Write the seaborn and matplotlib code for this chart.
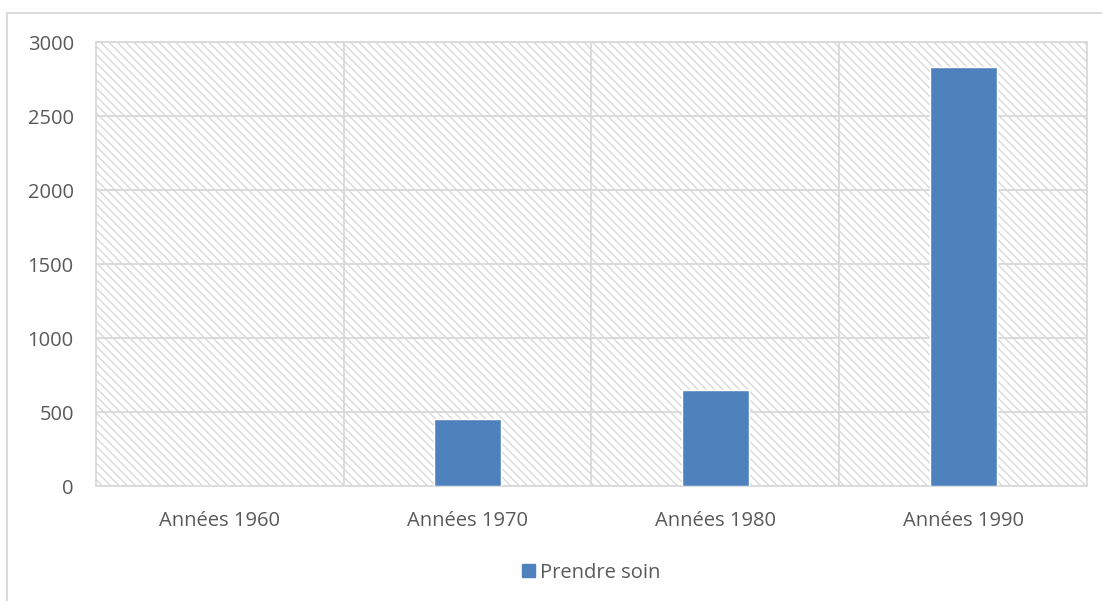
import matplotlib
matplotlib.use("Agg")
import matplotlib.pyplot as plt
import seaborn as sns
import pandas as pd
from matplotlib.lines import Line2D
from matplotlib.patches import Patch

categories = ["Années 1960", "Années 1970", "Années 1980", "Années 1990"]
values = [0, 450, 650, 2830]
series_name = "Prendre soin"
y_ticks = [0, 500, 1000, 1500, 2000, 2500, 3000]

df = pd.DataFrame({"periode": categories, "valeur": values})

sns.set_theme(style="white")
plt.rcParams["font.family"] = ["Open Sans", "DejaVu Sans"]
plt.rcParams["hatch.color"] = "#d9d9d9"
plt.rcParams["hatch.linewidth"] = 1.0

fig = plt.figure(figsize=(11.02, 6.01), dpi=100)
ax = fig.add_axes([0.0871, 0.1913, 0.8993, 0.7387])

# fond hachuré de la zone de tracé
ax.patch.set_facecolor("white")
ax.patch.set_hatch("\\\\\\\\")
ax.patch.set_edgecolor("#d9d9d9")

sns.barplot(data=df, x="periode", y="valeur", color="#4F81BD",
            width=0.27, saturation=1, ax=ax, zorder=3)

ax.set_xlim(-0.5, 3.5)
ax.set_ylim(0, 3000)
ax.set_yticks(y_ticks)
ax.set_xlabel("")
ax.set_ylabel("")

for y in y_ticks:
    ax.axhline(y, color="#d9d9d9", lw=1.3, zorder=2)
for x in [0.5, 1.5, 2.5]:
    ax.axvline(x, color="#d9d9d9", lw=1.3, zorder=2)

for s in ax.spines.values():
    s.set_color("#d9d9d9")
    s.set_linewidth(1.3)

ax.tick_params(axis="both", length=0, labelsize=14.5, colors="#595959")
ax.tick_params(axis="y", pad=16)
ax.tick_params(axis="x", pad=18)

leg = ax.legend(handles=[Patch(color="#4F81BD", label=series_name)],
                loc="center", bbox_to_anchor=(0.5, -0.195), frameon=False,
                fontsize=14.5, handlelength=0.65, handleheight=0.65, handletextpad=0.25)
for t in leg.get_texts():
    t.set_color("#595959")

# cadre extérieur du graphique
fig.add_artist(Line2D([7 / 1102, 1], [1 - 13 / 601, 1 - 13 / 601], color="#d9d9d9", lw=1.3))
fig.add_artist(Line2D([7 / 1102, 7 / 1102], [0, 1 - 13 / 601], color="#d9d9d9", lw=1.3))

fig.savefig("out.png", dpi=100)
